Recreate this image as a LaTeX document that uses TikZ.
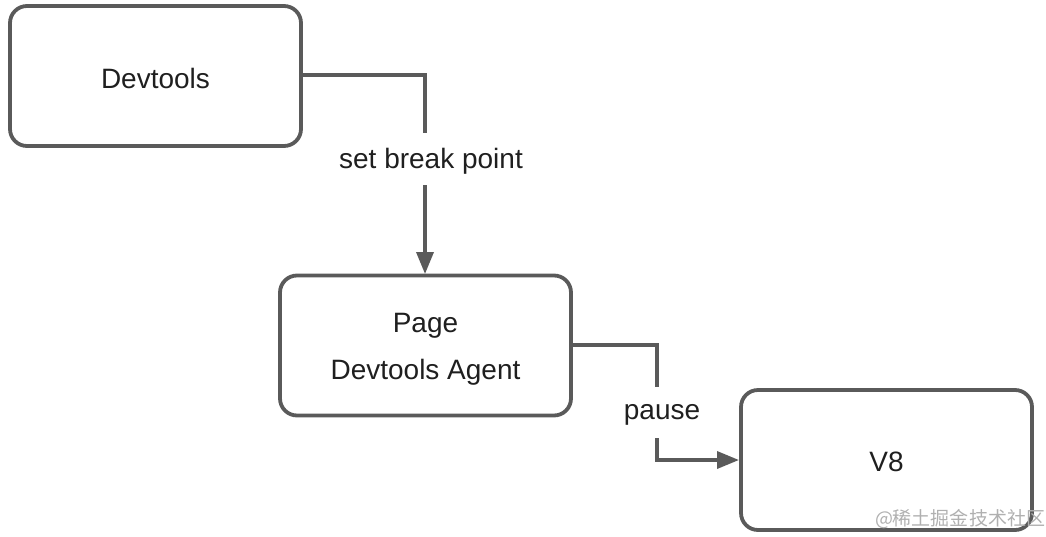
\documentclass[tikz,border=0pt]{standalone}
\usepackage{fontspec}
\setmainfont{Liberation Sans}
\newfontfamily\cjkfont{Noto Sans CJK SC}
\usetikzlibrary{arrows.meta,calc}
\definecolor{edge}{HTML}{5A5A5A}
\definecolor{txt}{HTML}{1F1F1F}
\definecolor{wm}{HTML}{B0B0B0}
\tikzset{
  box/.style={draw=edge, line width=3.8pt, rounded corners=17pt, minimum width=291pt, minimum height=140pt, inner sep=0pt},
  boxtext/.style={text=txt, font=\fontsize{28}{47}\selectfont, align=center, inner sep=0pt},
  conn/.style={draw=edge, line width=3.5pt},
  arr/.style={conn, -{Triangle[length=22pt,width=17pt]}},
  lbl/.style={text=txt, font=\fontsize{28}{34}\selectfont, inner sep=0pt}
}
\begin{document}
\begin{tikzpicture}[x=1pt,y=-1pt]
\useasboundingbox (0,0) rectangle (1046,536);
\node[box] (dev) at (155.5,76) {};
\node[boxtext] (devt) at (155.5,78) {Devtools};
\node[box] (page) at (425.5,345.5) {};
\node[boxtext] (paget) at (425.5,349) {Page\\Devtools Agent};
\node[box] (v8) at (886.5,460) {};
\node[boxtext] (v8t) at (886.5,462) {V8};
\node[lbl] (l1) at (431,161) {set break point};
\node[lbl] (l2) at (662,415) {pause};
\coordinate (b1) at (425,133);
\coordinate (b1e) at (425,185);
\coordinate (b2) at (657,387);
\coordinate (b2e) at (657,438);
\draw[conn] (dev.east |- 0,75) -| (b1);
\draw[arr] (b1e) -- (425,274);
\draw[conn] (page.east |- 0,345) -| (b2);
\draw[arr] (b2e) |- (739,460);
\node[text=wm, font=\cjkfont\fontsize{19}{19}\selectfont, inner sep=0pt] (wmk) at (960,519) {@稀土掘金技术社区};
\end{tikzpicture}
\end{document}
